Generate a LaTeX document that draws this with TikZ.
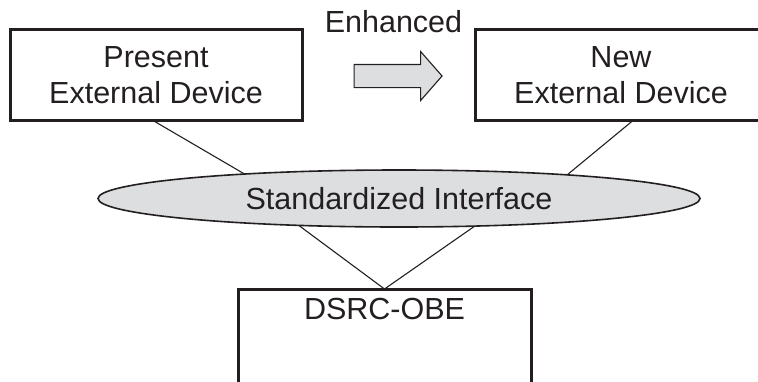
\documentclass[tikz,border=0pt]{standalone}
\usepackage{fontspec}
\setmainfont{Liberation Sans}
\usetikzlibrary{shapes.geometric,shapes.arrows,positioning}
\definecolor{boxgray}{RGB}{221,222,224}
\definecolor{ink}{RGB}{35,31,32}
\newcommand\devfont{\fontsize{30.5}{36}\selectfont}

\begin{document}
\begin{tikzpicture}[x=1pt,y=1pt,-,auto,thick,
    dev node/.style={rectangle,draw=ink,line width=3pt,minimum width=292pt,minimum height=91pt,inner sep=0pt,outer sep=0pt,align=center,text=ink,font=\devfont},
    iface node/.style={ellipse,draw=ink,fill=boxgray,line width=1.6pt,minimum width=602pt,minimum height=57pt,inner sep=0pt,outer sep=0pt,text=ink,font=\devfont},
    label node/.style={inner sep=0pt,text=ink,font=\devfont}]

            \useasboundingbox (0,0) rectangle (758,-381);
            \clip (0,0) rectangle (758,-381);

            \node[dev node]  (1) at (156,-75) {Present\\External Device};
            \node[dev node]  (2) [right of = 1, node distance=465pt] {New\\External Device};
            \node[iface node]  (3) at (399,-198.5) {Standardized Interface};
            \node[dev node, minimum width=293pt, minimum height=110pt, anchor=north]  (4) at (384.5,-289) {};
            \node[label node]  (obe) [below = 9pt of 4.north] {DSRC-OBE};

            \node[label node]  (enh) at (393.5,-22) {Enhanced};
            \node[single arrow, draw=ink, fill=boxgray, line width=1.1pt, inner xsep=0pt, inner ysep=11pt,
                  minimum height=88pt, single arrow head extend=13pt,
                  single arrow tip angle=97.6]  (arr) at (393,-76) {};

            \path[draw=ink, line width=1.1pt]
                ([xshift=-3pt]1.south) edge (3.171.9)
                ([xshift=12pt]2.south) edge (3.8.6)
                (3.195.9) edge (4.north)
                (3.340.3) edge (4.north)
            ;
        \end{tikzpicture}
\end{document}
